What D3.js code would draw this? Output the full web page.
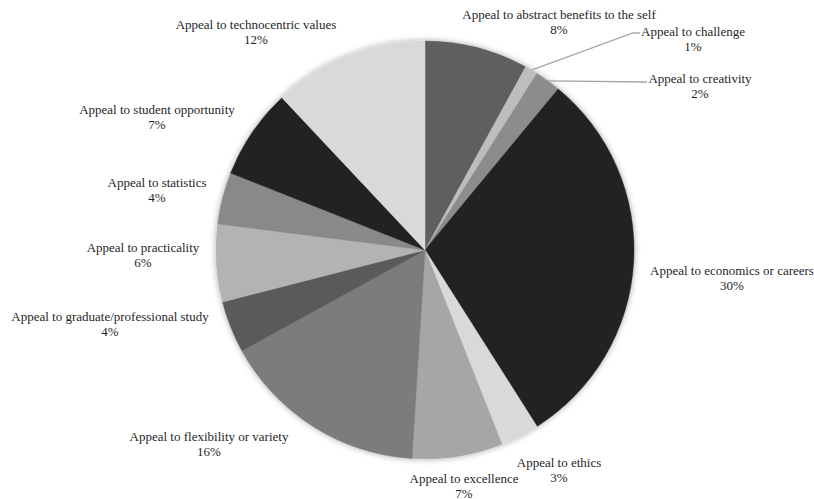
<!DOCTYPE html>
<html>
<head>
<meta charset="utf-8">
<script src="https://cdn.jsdelivr.net/npm/d3@7"></script>
<style>
  html, body { margin: 0; padding: 0; background: #fff; }
  svg { display: block; }
</style>
</head>
<body>
<svg id="chart" width="814" height="499"></svg>
<script>
// Share of appeal types (percent), clockwise from 12 o'clock
const categories = [
  "Appeal to abstract benefits to the self",
  "Appeal to challenge",
  "Appeal to creativity",
  "Appeal to economics or careers",
  "Appeal to ethics",
  "Appeal to excellence",
  "Appeal to flexibility or variety",
  "Appeal to graduate/professional study",
  "Appeal to practicality",
  "Appeal to statistics",
  "Appeal to student opportunity",
  "Appeal to technocentric values"
];
const shares = [8, 1, 2, 30, 3, 7, 16, 4, 6, 4, 7, 12];

// Grey fill for each slice
const fills = ["#5f5f5f", "#bdbdbd", "#8c8c8c", "#222222", "#d9d9d9", "#a6a6a6",
               "#7b7b7b", "#5a5a5a", "#b3b3b3", "#898989", "#222222", "#d9d9d9"];

// Label block centres (x, y of the first line) and which labels get a leader line
const labelSpots = [
  [559, 19], [693, 36], [700, 83], [732, 275], [559, 467], [464, 483],
  [209, 441], [110, 321], [143, 252], [157, 187], [157, 114], [256, 29]
];
const leaderElbows = { 1: [[633, 33], [640, 33]], 2: [[647, 82]] };

const svg = d3.select("#chart");
const cx = 425, cy = 250, radius = 209;

const defs = svg.append("defs");
const shadow = defs.append("filter").attr("id", "halo")
  .attr("x", "-10%").attr("y", "-10%").attr("width", "120%").attr("height", "120%");
shadow.append("feDropShadow")
  .attr("dx", 0).attr("dy", 0).attr("stdDeviation", 3)
  .attr("flood-color", "#000").attr("flood-opacity", 0.35);

const pie = d3.pie().sort(null).value(d => d.value);
const arcs = pie(categories.map((c, i) => ({ name: c, value: shares[i], i })));

const arc = d3.arc().innerRadius(0).outerRadius(radius);
const edgeArc = d3.arc().innerRadius(radius).outerRadius(radius);

const g = svg.append("g").attr("transform", `translate(${cx},${cy})`);
g.append("g").attr("filter", "url(#halo)")
  .selectAll("path")
  .data(arcs)
  .join("path")
  .attr("d", arc)
  .attr("fill", d => fills[d.data.i])
  .attr("stroke", d => fills[d.data.i])
  .attr("stroke-width", 0.5);

// Leader lines for the thin slices
Object.entries(leaderElbows).forEach(([k, pts]) => {
  const d = arcs[+k];
  const [sx, sy] = edgeArc.centroid(d);
  const path = [[sx + cx, sy + cy], ...pts];
  svg.append("path")
    .attr("d", d3.line()(path))
    .attr("fill", "none")
    .attr("stroke", "#a6a6a6")
    .attr("stroke-width", 1.3);
});

// Category name and percentage labels
const labels = svg.append("g").selectAll("text")
  .data(arcs)
  .join("text")
  .attr("font-family", "Liberation Serif, Times New Roman, serif")
  .attr("font-size", "13px")
  .attr("fill", "#262626")
  .attr("text-anchor", "middle")
  .attr("x", d => labelSpots[d.data.i][0])
  .attr("y", d => labelSpots[d.data.i][1]);
labels.append("tspan")
  .attr("x", d => labelSpots[d.data.i][0])
  .text(d => d.data.name);
labels.append("tspan")
  .attr("x", d => labelSpots[d.data.i][0])
  .attr("dy", 14.5)
  .text(d => d3.format(".0%")(d.data.value / 100));
</script>
</body>
</html>
